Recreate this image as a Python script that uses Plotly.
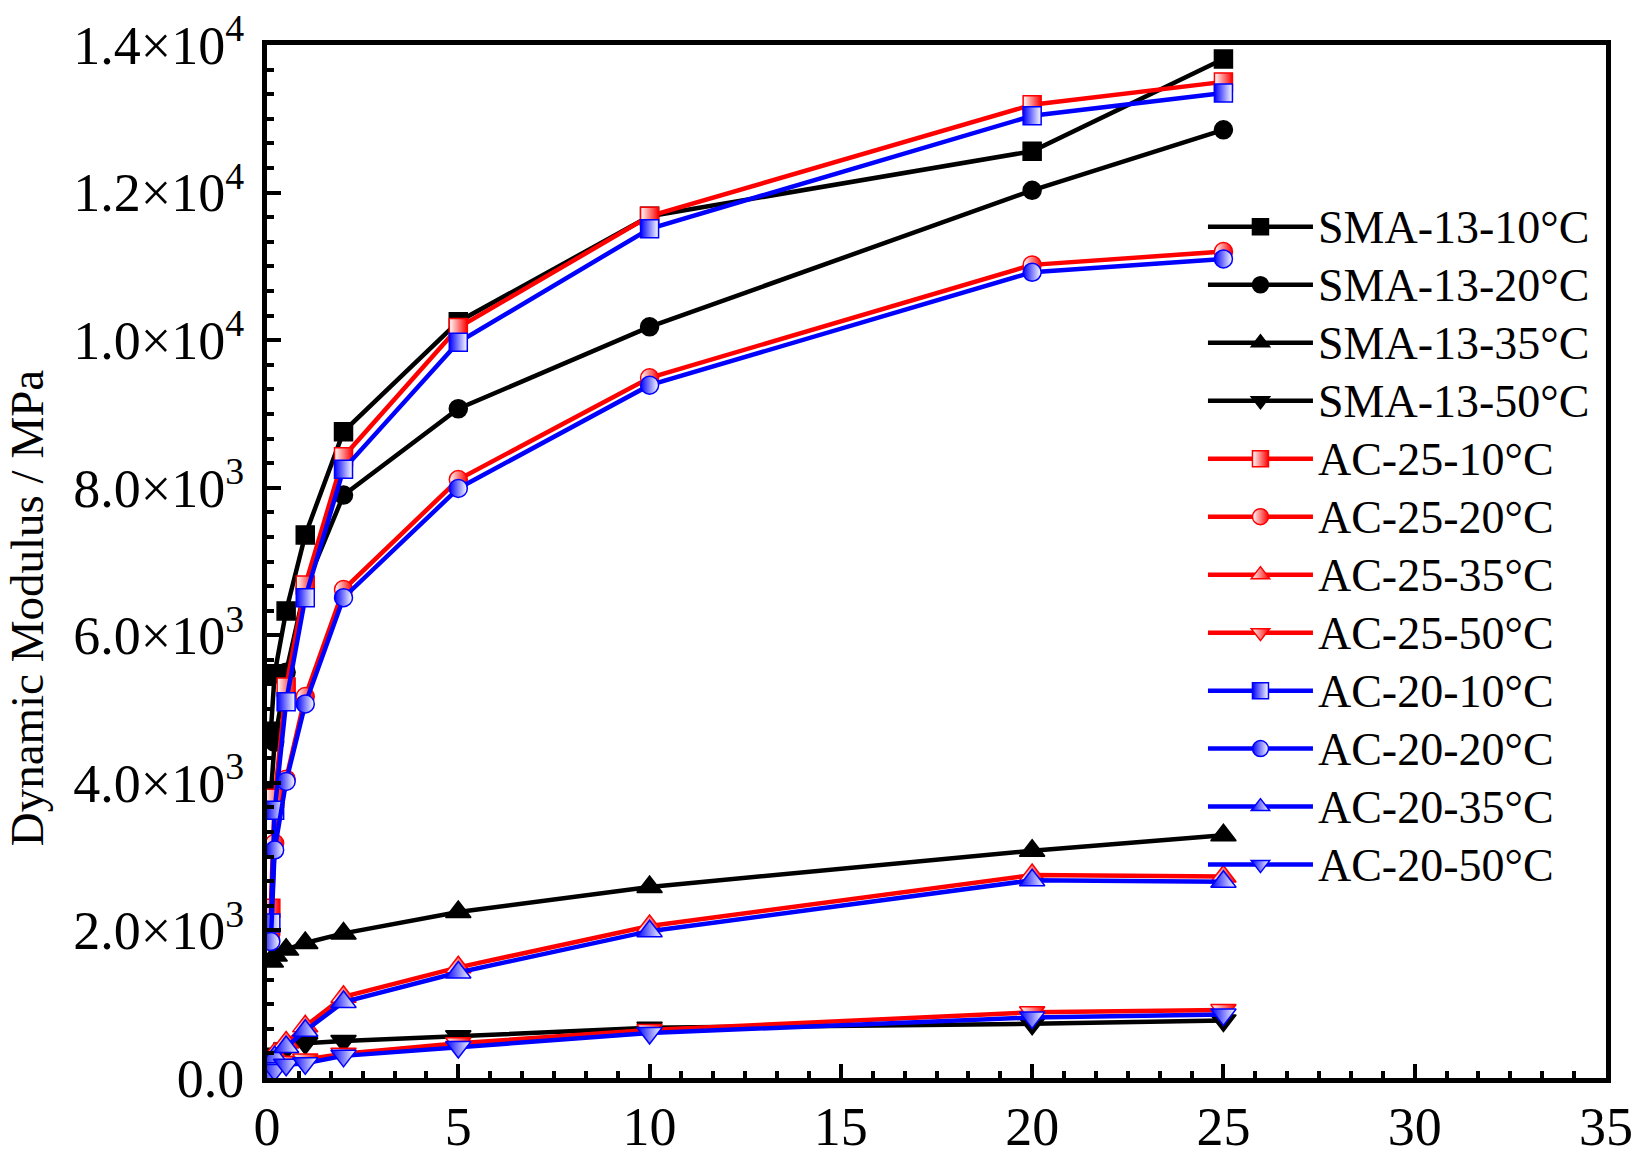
import plotly.graph_objects as go

# Loading frequency (Hz)
freq = [0.1, 0.2, 0.5, 1, 2, 5, 10, 20, 25]

# Dynamic modulus (MPa)
sma13_10 = [4700, 5480, 6330, 7360, 8760, 10250, 11680, 12560, 13810]
sma13_20 = [3850, 4550, 5500, 6650, 7900, 9070, 10180, 12030, 12850]
sma13_35 = [1580, 1660, 1740, 1830, 1960, 2250, 2590, 3080, 3290]
sma13_50 = [270, 330, 400, 470, 500, 565, 680, 735, 780]

ac25_10 = [2300, 3790, 5300, 6680, 8420, 10170, 11680, 13190, 13500]
ac25_20 = [1950, 3180, 4050, 5170, 6620, 8110, 9490, 11020, 11200]
ac25_35 = [250, 330, 480, 700, 1100, 1500, 2060, 2750, 2730]
ac25_50 = [120, 170, 220, 250, 330, 470, 650, 890, 920]

ac20_10 = [2100, 3630, 5100, 6510, 8250, 9970, 11510, 13040, 13350]
ac20_20 = [1850, 3090, 4020, 5070, 6510, 7990, 9390, 10920, 11100]
ac20_35 = [200, 280, 420, 640, 1030, 1430, 1990, 2680, 2660]
ac20_50 = [70, 110, 180, 200, 300, 420, 610, 820, 860]

y_tickvals = [0, 2000, 4000, 6000, 8000, 10000, 12000, 14000]
y_ticktext = ['0.0', '2.0×10<sup>3</sup>', '4.0×10<sup>3</sup>', '6.0×10<sup>3</sup>',
              '8.0×10<sup>3</sup>', '1.0×10<sup>4</sup>', '1.2×10<sup>4</sup>',
              '1.4×10<sup>4</sup>']

FONT = 'Liberation Serif'

series = [
    ('SMA-13-10°C', sma13_10, 'black', 'square', None),
    ('SMA-13-20°C', sma13_20, 'black', 'circle', None),
    ('SMA-13-35°C', sma13_35, 'black', 'triangle-up', None),
    ('SMA-13-50°C', sma13_50, 'black', 'triangle-down', None),
    ('AC-25-10°C', ac25_10, 'red', 'square', 'left'),
    ('AC-25-20°C', ac25_20, 'red', 'circle', 'left'),
    ('AC-25-35°C', ac25_35, 'red', 'triangle-up', 'left'),
    ('AC-25-50°C', ac25_50, 'red', 'triangle-down', 'left'),
    ('AC-20-10°C', ac20_10, 'blue', 'square', 'right'),
    ('AC-20-20°C', ac20_20, 'blue', 'circle', 'right'),
    ('AC-20-35°C', ac20_35, 'blue', 'triangle-up', 'right'),
    ('AC-20-50°C', ac20_50, 'blue', 'triangle-down', 'right'),
]

fig = go.Figure()
for name, vals, color, symbol, half in series:
    size = 18 if symbol in ('square', 'circle') else 22
    marker = dict(symbol=symbol, size=size, color=color, line=dict(color=color, width=1.5))
    # half-filled look: the gradient runs from gradient colour (left) to marker colour (right)
    if half == 'left':
        marker['color'] = 'white'
        marker['gradient'] = dict(type='horizontal', color=color)
    elif half == 'right':
        marker['gradient'] = dict(type='horizontal', color='white')
    fig.add_trace(go.Scatter(
        x=freq, y=vals, mode='lines+markers',
        name=f'<span style="font-size:46px">{name}</span>',
        line=dict(color=color, width=4.5), marker=marker))

axis_common = dict(
    showline=True, linecolor='black', linewidth=5, mirror=True,
    ticks='inside', ticklen=14, tickwidth=4, tickcolor='black',
    showgrid=False, zeroline=False, automargin=False,
    tickfont=dict(family=FONT, size=54, color='black'),
)

fig.update_xaxes(range=[0, 35], tickvals=[0, 5, 10, 15, 20, 25, 30, 35],
                 minor=dict(dtick=5 / 6, ticks='inside', ticklen=7, tickwidth=4,
                            tickcolor='black'),
                 ticklabelstandoff=-3, **axis_common)
fig.update_yaxes(range=[0, 14000], tickvals=y_tickvals, ticktext=y_ticktext,
                 minor=dict(dtick=2000 / 6, ticks='inside', ticklen=7, tickwidth=4,
                            tickcolor='black'),
                 ticklabelstandoff=7, **axis_common)

# y axis title as an annotation so it sits where the original has it
fig.add_annotation(text='Dynamic Modulus / MPa', xref='paper', yref='paper',
                   x=-0.179, y=0.455, textangle=-90, showarrow=False,
                   xanchor='center', yanchor='middle',
                   font=dict(family=FONT, size=47, color='black'))

fig.update_layout(
    width=1636, height=1161,
    margin=dict(l=267, r=30, t=45, b=83),
    plot_bgcolor='white', paper_bgcolor='white',
    legend=dict(x=0.699, y=0.857, xanchor='left', yanchor='top',
                bgcolor='rgba(0,0,0,0)', itemwidth=105,
                font=dict(family=FONT, size=42.3, color='black')),
    font=dict(family=FONT, color='black'),
)

# drop the default page margin so the figure sits at the window's corner
fig.write_html('out.html', config={'displayModeBar': False},
               post_script="document.body.style.margin='0';")
